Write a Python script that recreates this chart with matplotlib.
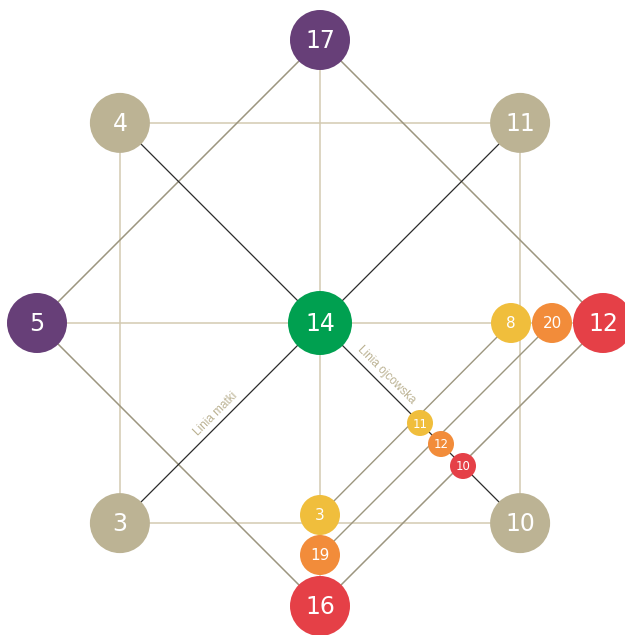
import numpy as np
import matplotlib
matplotlib.use('Agg')
import matplotlib.pyplot as plt
from matplotlib.patches import Circle

# wartości w węzłach ośmiokąta (zgodnie z ruchem wskazówek od góry)
outer_values = [17, 11, 12, 10, 16, 3, 5, 4]
outer_colors = ['#673f78', '#bcb394', '#e54047', '#bcb394',
                '#e54047', '#bcb394', '#673f78', '#bcb394']
center_value = 14
right_values = [8, 20]
bottom_values = [3, 19]
diag_values = [11, 12, 10]
small_colors = ['#f0be3c', '#f28c3a', '#e54047']

beige = '#bcb394'
light = '#d3cab2'
olive = '#9c967f'

cx, cy, R = 320, 323, 283


def outer_pos(k):
    a = np.radians(45 * k)
    return cx + R * np.sin(a), cy - R * np.cos(a)


pts = [outer_pos(k) for k in range(8)]

fig = plt.figure(figsize=(6.25, 6.35), dpi=100)
ax = fig.add_axes([0, 0, 1, 1])
ax.set_xlim(0, 625)
ax.set_ylim(635, 0)
ax.set_aspect('equal')
ax.axis('off')


def line(p, q, color, lw):
    ax.plot([p[0], q[0]], [p[1], q[1]], color=color, lw=lw, zorder=1)


# kwadrat i krzyż
for a, b in [(7, 1), (1, 3), (3, 5), (5, 7), (0, 4), (6, 2)]:
    line(pts[a], pts[b], light, 1.1)
# romb
for a, b in [(0, 2), (2, 4), (4, 6), (6, 0)]:
    line(pts[a], pts[b], olive, 1.1)
# przekątne
for a, b in [(7, 3), (1, 5)]:
    line(pts[a], pts[b], '#2b2b2b', 0.9)

right_off = [191, 232]
bottom_off = [192, 232]
diag_off = [100, 121, 143]

right_pts = [(cx + d, cy) for d in right_off]
bottom_pts = [(cx, cy + d) for d in bottom_off]
diag_pts = [(cx + d, cy + d) for d in diag_off]

# linie równoległe do rombu
line(right_pts[0], bottom_pts[0], olive, 1.0)
line(right_pts[1], bottom_pts[1], olive, 1.0)


def node(p, r, color, text, fs):
    ax.add_patch(Circle(p, r, color=color, zorder=3, lw=0))
    ax.text(p[0], p[1] + 1, str(text), color='white', fontsize=fs,
            ha='center', va='center', family='DejaVu Sans', zorder=4)


for p, v, c in zip(pts, outer_values, outer_colors):
    node(p, 30, c, v, 17)
node((cx, cy), 32, '#00a050', center_value, 17)

for p, v, c in zip(right_pts, right_values, small_colors):
    node(p, 20, c, v, 11)
for p, v, c in zip(bottom_pts, bottom_values, small_colors):
    node(p, 20, c, v, 11)
for p, v, c in zip(diag_pts, diag_values, small_colors):
    node(p, 13, c, v, 8.5)

ax.text(216, 414, 'Linia matki', rotation=45, color=beige, fontsize=8.5,
        family='Liberation Sans', ha='center', va='center', zorder=2)
ax.text(386, 375, 'Linia ojcowska', rotation=-45, color=beige, fontsize=8.5,
        family='Liberation Sans', ha='center', va='center', zorder=2)

fig.savefig('out.png', dpi=100)
